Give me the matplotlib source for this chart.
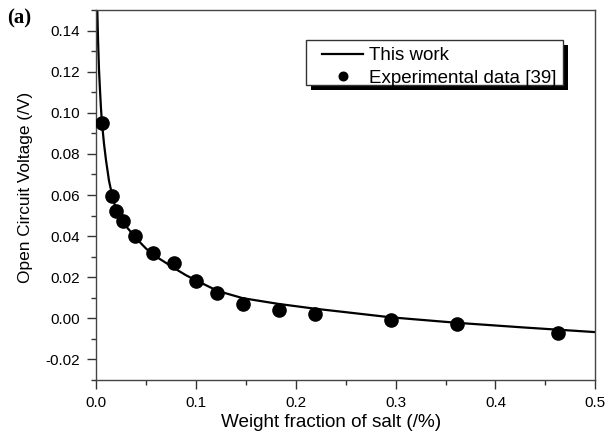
import matplotlib
matplotlib.use("Agg")
import matplotlib.pyplot as plt
from matplotlib.patches import Rectangle
from matplotlib.ticker import MultipleLocator, FormatStrFormatter

plt.rcParams['font.family'] = ['Liberation Sans', 'DejaVu Sans']

# "This work" model curve
model_x = [0.0013, 0.0015, 0.002, 0.003, 0.004, 0.005, 0.006, 0.008, 0.010, 0.013,
           0.0163, 0.020, 0.027, 0.035, 0.040, 0.050, 0.057, 0.070, 0.078, 0.090,
           0.100, 0.122, 0.147, 0.183, 0.219, 0.250, 0.295, 0.362, 0.430, 0.500]
model_y = [0.150, 0.146, 0.136, 0.121, 0.111, 0.102, 0.095, 0.085, 0.077, 0.067,
           0.0595, 0.053, 0.0465, 0.042, 0.039, 0.034, 0.031, 0.027, 0.0245, 0.021,
           0.0185, 0.0133, 0.0098, 0.0070, 0.0047, 0.0030, 0.0005, -0.0022, -0.0045, -0.0067]

# Experimental data [39]
exp_x = [0.0063, 0.0163, 0.020, 0.0273, 0.0394, 0.0574, 0.0784, 0.0998,
         0.1215, 0.147, 0.183, 0.219, 0.295, 0.362, 0.463]
exp_y = [0.095, 0.0595, 0.0524, 0.0473, 0.0400, 0.0317, 0.0267, 0.0182,
         0.0121, 0.0070, 0.0042, 0.0023, -0.0010, -0.0028, -0.0072]

W, H = 606, 436
fig = plt.figure(figsize=(W/100, H/100), dpi=100)
ax = fig.add_axes([96/W, 56/H, 499.3/W, 370/H])

ax.plot(model_x, model_y, color='black', lw=1.6, label='This work', zorder=2, clip_on=True)
ax.plot(exp_x, exp_y, 'o', color='black', ms=9.5, label='Experimental data [39]', zorder=3)

ax.set_xlim(0, 0.5)
ax.set_ylim(-0.03, 0.15)
ax.xaxis.set_major_locator(MultipleLocator(0.1))
ax.xaxis.set_minor_locator(MultipleLocator(0.05))
ax.yaxis.set_major_locator(MultipleLocator(0.02))
ax.yaxis.set_minor_locator(MultipleLocator(0.01))
ax.xaxis.set_major_formatter(FormatStrFormatter('%.1f'))
ax.yaxis.set_major_formatter(FormatStrFormatter('%.2f'))
ax.tick_params(which='both', direction='out', top=False, right=False,
               color='#333333', width=1)
ax.tick_params(which='major', length=6.2, labelsize=11, pad=5)
ax.tick_params(which='minor', length=3.8)
for s in ax.spines.values():
    s.set_color('#444444')
    s.set_linewidth(1)

ax.set_xlabel('Weight fraction of salt (/%)', fontsize=13.6)
ax.xaxis.set_label_coords((331-96)/499.3, (380-414)/370)
ax.set_ylabel('Open Circuit Voltage (/V)', fontsize=12.4)
ax.yaxis.set_label_coords((33-96)/499.3, (380-187.5)/370)

# legend (frameless) with manually drawn Origin-style box and shadow
leg = ax.legend(loc='upper left', bbox_to_anchor=(322/W, 1-47/H),
                bbox_transform=fig.transFigure, borderaxespad=0, borderpad=0,
                fontsize=13.5, frameon=False, handlelength=2.2, markerscale=0.65,
                handletextpad=0.3, labelspacing=0.3)
leg.set_zorder(6)

box_x0, box_y0, box_x1, box_y1 = 306, 40, 563, 85
ax.add_patch(Rectangle(((box_x0+5)/W, 1-(box_y1+5)/H), (box_x1-box_x0)/W, (box_y1-box_y0)/H,
                       transform=fig.transFigure, facecolor='black', edgecolor='none',
                       zorder=4, clip_on=False))
ax.add_patch(Rectangle((box_x0/W, 1-box_y1/H), (box_x1-box_x0)/W, (box_y1-box_y0)/H,
                       transform=fig.transFigure, facecolor='white', edgecolor='#333333',
                       lw=1, zorder=5, clip_on=False))

fig.text(7/W, 1 - 18/H, '(a)', fontsize=15, fontweight='bold',
         family=['Liberation Serif', 'DejaVu Serif'], va='center', ha='left')

fig.savefig('out.png', dpi=100)
